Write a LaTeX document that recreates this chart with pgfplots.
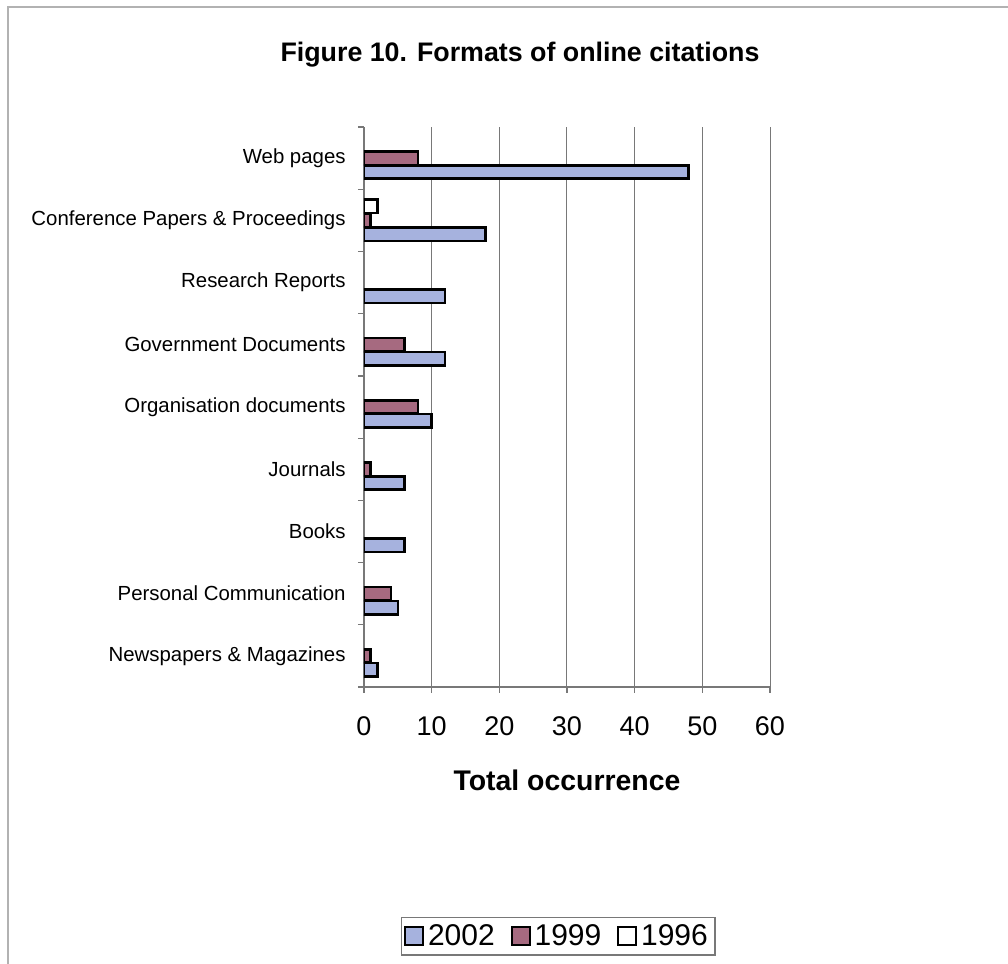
\documentclass[border=0pt]{standalone}
\usepackage{pgfplots}
\pgfplotsset{compat=1.18}
\usepackage{fontspec}
\setmainfont{Liberation Sans}
\definecolor{c2002}{RGB}{166,178,222}
\definecolor{c1999}{RGB}{166,106,128}
\definecolor{gridc}{RGB}{120,120,120}
\begin{document}
\begin{tikzpicture}
\useasboundingbox (0pt,0pt) rectangle (504pt,482pt);
\draw[gray!60, line width=1pt] (4pt,0pt) -- (4pt,478.5pt) -- (504pt,478.5pt);
\node[font=\fontsize{13.4}{15}\selectfont\bfseries] at (260pt,454.5pt) {Figure 10. Formats of online citations};
\begin{axis}[
  at={(182pt,138.5pt)}, anchor=south west,
  width=203pt, height=280pt, scale only axis,
  xmin=0, xmax=60, ymin=-0.5, ymax=8.5,
  xtick={0,10,...,60},
  ytick={-0.5,0.5,...,8.5},
  y tick label as interval,
  yticklabels={Newspapers \& Magazines, Personal Communication, Books, Journals, Organisation documents, Government Documents, Research Reports, Conference Papers \& Proceedings, Web pages},
  axis x line*=bottom, axis y line*=left,
  axis line style={draw=gridc, line width=0.7pt},
  tick align=outside,
  major tick length=3pt,
  tick style={draw=gridc, line width=0.6pt},
  xmajorgrids,
  grid style={draw=gridc, line width=0.5pt},
  /pgf/number format/assume math mode=true,
  xticklabel style={font=\fontsize{13.5}{15}\selectfont, yshift=-8.5pt},
  yticklabel style={font=\fontsize{10.2}{12}\selectfont, inner sep=0pt, xshift=-6pt},
  xlabel={Total occurrence},
  xlabel style={font=\fontsize{14.2}{16}\selectfont\bfseries, at={(axis description cs:0.5,-0.166)}, anchor=center},
  xbar, bar width=0.215,
  legend columns=3,
  legend style={at={(0.478,-0.445)}, anchor=center, draw=gridc, line width=0.7pt,
    font=\fontsize{15}{17}\selectfont, inner sep=1.5pt,
    /tikz/every even column/.append style={column sep=6pt}},
  legend image code/.code={\draw[#1, line width=0.9pt] (0pt,-4.5pt) rectangle (9pt,4.5pt);},
]
\addplot[draw=black, line width=1.3pt, fill=c2002, bar shift=-0.223] coordinates {
  (2,0) (5,1) (6,2) (6,3) (10,4) (12,5) (12,6) (18,7) (48,8)};
\addlegendentry{2002}
\addplot[draw=black, line width=1.3pt, fill=c1999, bar shift=0] coordinates {
  (1,0) (4,1) (1,3) (8,4) (6,5) (1,7) (8,8)};
\addlegendentry{1999}
\addplot[draw=black, line width=1.3pt, fill=white, bar shift=0.223] coordinates {
  (2,7)};
\addlegendentry{1996}
\end{axis}
\end{tikzpicture}
\end{document}
